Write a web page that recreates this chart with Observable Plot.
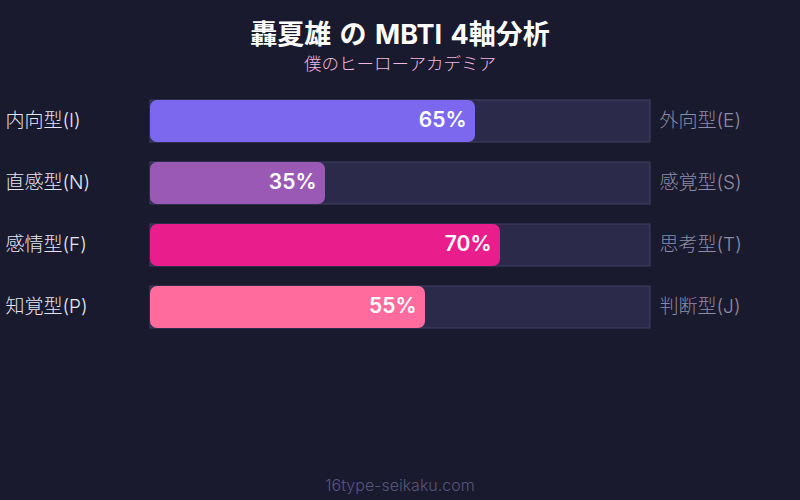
<!DOCTYPE html>
<html><head><meta charset="utf-8">
<script src="https://cdn.jsdelivr.net/npm/d3@7"></script>
<script src="https://cdn.jsdelivr.net/npm/@observablehq/plot@0.6"></script>
<style>
html,body{margin:0;padding:0;background:#1a1a2e;}
#wrap{position:relative;width:800px;height:500px;overflow:hidden;background:#1a1a2e;font-family:Inter,"Noto Sans CJK JP",sans-serif;}
#title{position:absolute;left:0;width:800px;top:13px;text-align:center;color:#ffffff;font-size:27px;font-weight:700;word-spacing:2px;}
#subtitle{position:absolute;left:0;width:800px;top:50px;text-align:center;color:#f0b8e0;font-size:17.5px;font-weight:300;}
#footer{position:absolute;left:0;width:800px;top:475px;text-align:center;color:#55557a;font-size:16px;font-weight:300;}
#chart{position:absolute;left:0;top:0;}
</style></head>
<body>
<div id="wrap">
<div id="chart"></div>
<div id="title">轟夏雄 の MBTI 4軸分析</div>
<div id="subtitle">僕のヒーローアカデミア</div>
<div id="footer">16type-seikaku.com</div>
</div>
<script>
const leftLabels = ["内向型(I)", "直感型(N)", "感情型(F)", "知覚型(P)"];
const rightLabels = ["外向型(E)", "感覚型(S)", "思考型(T)", "判断型(J)"];
const values = [65, 35, 70, 55];
const colors = ["#7b68ee", "#9b59b6", "#e91e8c", "#ff6b9d"];

const data = leftLabels.map((l, i) => ({left: l, right: rightLabels[i], value: values[i], color: colors[i]}));

const chart = Plot.plot({
  width: 800,
  height: 500,
  margin: 0,
  style: {background: "transparent", fontFamily: "Inter, 'Noto Sans CJK JP', sans-serif"},
  x: {domain: [0, 100], range: [150, 650], axis: null},
  y: {type: "band", domain: leftLabels, range: [90, 338], paddingInner: 20/62, paddingOuter: 10/62, axis: null},
  marks: [
    Plot.barX(data, {y: "left", x1: 0, x2: 100, fill: "#2c2a4a", stroke: "#413f64", strokeWidth: 1}),
    Plot.barX(data, {y: "left", x1: 0, x2: "value", fill: d => d.color, rx: 7}),
    Plot.text(data, {y: "left", x: "value", text: d => d.value + "%", textAnchor: "end", dx: -9, dy: -1, fill: "#ffffff", fontSize: 21, fontWeight: 600}),
    Plot.text(data, {y: "left", x: 0, text: "left", textAnchor: "start", dx: -145, dy: -1, fill: "#e6e6f2", fontSize: 19, fontWeight: 300}),
    Plot.text(data, {y: "left", x: 100, text: "right", textAnchor: "start", dx: 9, dy: -1, fill: "#8c8ca4", fontSize: 19, fontWeight: 300})
  ]
});
document.getElementById("chart").appendChild(chart);
</script>
</body></html>
